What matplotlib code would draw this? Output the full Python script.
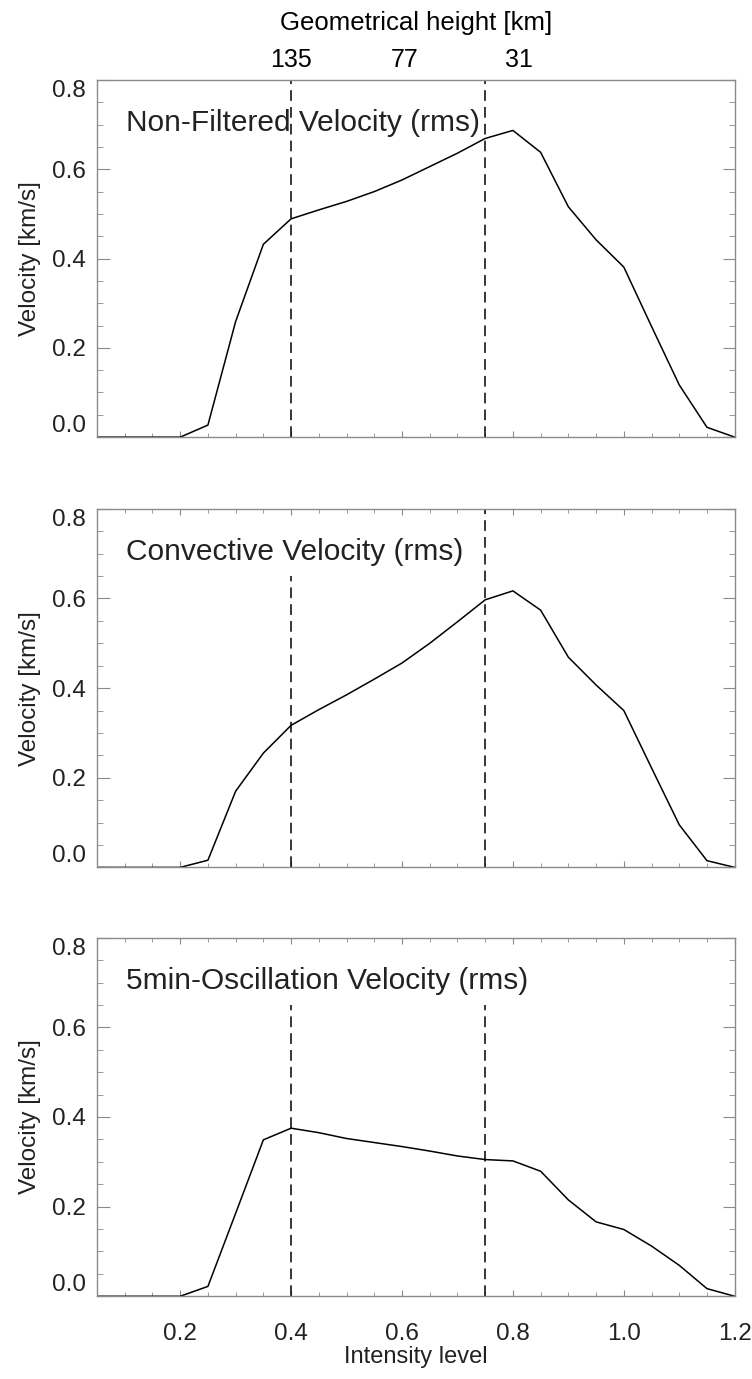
import matplotlib
matplotlib.use('Agg')
import matplotlib.pyplot as plt
from matplotlib.ticker import MultipleLocator

plt.rcParams['font.family'] = ['Liberation Sans', 'DejaVu Sans']

# intensity levels (x) and rms velocities
intensity = [0.05, 0.10, 0.15, 0.20, 0.25, 0.30, 0.35, 0.40, 0.45, 0.50, 0.55, 0.60,
             0.65, 0.70, 0.75, 0.80, 0.85, 0.90, 0.95, 1.00, 1.05, 1.10, 1.15, 1.20]
v_nonfiltered = [0.0, 0.0, 0.0, 0.0, 0.027, 0.259, 0.432, 0.489, 0.509, 0.528, 0.550, 0.576,
                 0.606, 0.636, 0.669, 0.687, 0.638, 0.516, 0.442, 0.381, 0.248, 0.117, 0.022, 0.0]
v_convective = [0.0, 0.0, 0.0, 0.0, 0.016, 0.170, 0.255, 0.317, 0.352, 0.385, 0.420, 0.456,
                0.500, 0.548, 0.597, 0.617, 0.574, 0.469, 0.407, 0.350, 0.222, 0.095, 0.015, 0.0]
v_oscillation = [0.0, 0.0, 0.0, 0.0, 0.022, 0.185, 0.349, 0.375, 0.365, 0.352, 0.343, 0.334,
                 0.324, 0.313, 0.305, 0.302, 0.279, 0.215, 0.166, 0.149, 0.112, 0.069, 0.017, 0.0]
titles = ['Non-Filtered Velocity (rms)', 'Convective Velocity (rms)',
          '5min-Oscillation Velocity (rms)']
series = [v_nonfiltered, v_convective, v_oscillation]

dashed_x = [0.4, 0.75]
# upper end (in km/s) of each dashed line, per panel
dashed_top = [[0.8, 0.8], [0.65, 0.8], [0.65, 0.65]]
height_pos = [0.4, 0.605, 0.81]
height_labels = ['135', '77', '31']

fig = plt.figure(figsize=(7.52, 13.79), dpi=100)
boxes = [[0.129, 0.683, 0.848, 0.259],
         [0.129, 0.371, 0.848, 0.260],
         [0.129, 0.060, 0.848, 0.260]]

spine_col = '#8a8a8a'
txt_col = '#222222'

for i in range(3):
    ax = fig.add_axes(boxes[i])
    ax.plot(intensity, series[i], color='black', lw=1.1)
    for xd, yt in zip(dashed_x, dashed_top[i]):
        ax.plot([xd, xd], [0, yt], color='black', lw=1.1, ls=(0, (7, 4)))
    ax.set_xlim(0.05, 1.2)
    ax.set_ylim(0, 0.8)
    ax.set_yticks([0.0, 0.2, 0.4, 0.6, 0.8])
    ax.set_yticklabels(['0.0', '0.2', '0.4', '0.6', '0.8'])
    ax.yaxis.set_minor_locator(MultipleLocator(0.05))
    ax.set_xticks([0.2, 0.4, 0.6, 0.8, 1.0, 1.2])
    ax.xaxis.set_minor_locator(MultipleLocator(0.05))
    for s in ax.spines.values():
        s.set_color(spine_col)
        s.set_linewidth(1.0)
    ax.tick_params(axis='both', which='both', direction='in', top=True, right=True,
                   color=spine_col, labelcolor=txt_col, labelsize=17.5)
    ax.tick_params(axis='y', which='major', length=9, pad=8)
    ax.tick_params(axis='y', which='minor', length=4.5)
    ax.tick_params(axis='x', which='major', length=4.5, pad=19)
    ax.tick_params(axis='x', which='minor', length=3)
    labs = ax.get_yticklabels()
    labs[0].set_va('bottom')
    labs[-1].set_va('top')
    if i < 2:
        ax.set_xticklabels([])
    else:
        ax.set_xlabel('Intensity level', fontsize=17, color=txt_col, labelpad=1)
    ax.set_ylabel('Velocity [km/s]', fontsize=17.5, color=txt_col, labelpad=8)
    ax.text(0.045, 0.88, titles[i], transform=ax.transAxes, fontsize=21.5,
            color=txt_col, va='center', ha='left')

    if i == 0:
        top = ax.twiny()
        top.set_xlim(ax.get_xlim())
        top.set_xticks(height_pos)
        top.set_xticklabels(height_labels)
        top.tick_params(axis='x', length=0, labelsize=18, pad=6, labelcolor='black')
        top.set_xlabel('Geometrical height [km]', fontsize=18.5, labelpad=13)
        for s in top.spines.values():
            s.set_visible(False)

fig.savefig('out.png', dpi=100)
